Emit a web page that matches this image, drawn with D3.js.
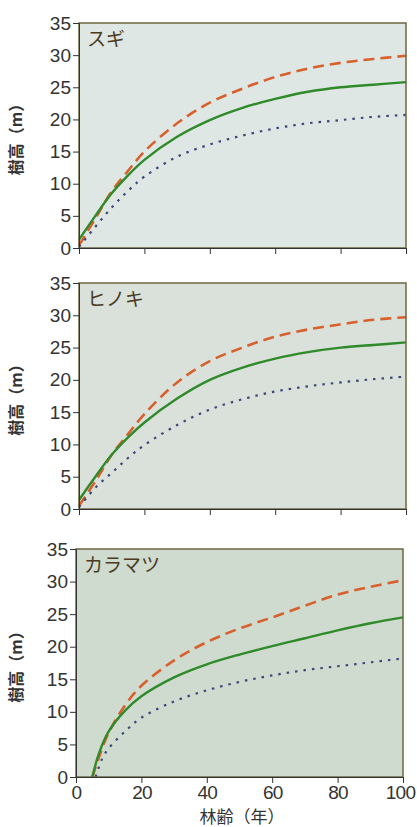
<!DOCTYPE html>
<html>
<head>
<meta charset="utf-8">
<script src="https://cdn.jsdelivr.net/npm/d3@7"></script>
<style>
  body { margin: 0; background: #fff; }
  svg { display: block; }
  .tick text { font-family: "Liberation Sans Narrow", "Liberation Sans", Arial, sans-serif; font-size: 19px; fill: #333; }
</style>
</head>
<body>
<div id="chart"></div>
<script>
// Tick values
const yTicks = [0, 5, 10, 15, 20, 25, 30, 35];
const xTicks = [0, 20, 40, 60, 80, 100];

// Panel names
const speciesNames = ["スギ", "ヒノキ", "カラマツ"];

const ages = [0, 5, 10, 15, 20, 30, 40, 50, 60, 70, 80, 90, 100];
const agesLarch = [5, 7, 10, 15, 20, 30, 40, 50, 60, 70, 80, 90, 100];
const agesLarchLow = [6, 8, 10, 15, 20, 30, 40, 50, 60, 70, 80, 90, 100];

// スギ
const sugiHigh = [0.4, 4.6, 8.8, 12.0, 15.0, 19.4, 22.6, 24.8, 26.6, 27.9, 28.8, 29.4, 29.9];
const sugiMid = [1.3, 5.0, 8.5, 11.3, 13.7, 17.3, 19.9, 21.8, 23.2, 24.3, 25.0, 25.4, 25.8];
const sugiLow = [0.2, 3.3, 6.3, 8.9, 11.1, 14.2, 16.1, 17.5, 18.6, 19.4, 19.9, 20.4, 20.7];

// ヒノキ
const hinokiHigh = [0.5, 4.3, 8.4, 11.6, 14.7, 19.6, 22.9, 25.0, 26.7, 27.8, 28.6, 29.3, 29.7];
const hinokiMid = [1.4, 5.0, 8.4, 11.1, 13.4, 17.1, 20.0, 21.9, 23.3, 24.3, 25.0, 25.4, 25.8];
const hinokiLow = [0.3, 3.3, 5.6, 7.9, 9.9, 13.0, 15.4, 17.0, 18.2, 19.0, 19.6, 20.1, 20.5];

// カラマツ
const larchHigh = [0, 3.0, 6.8, 11.0, 14.0, 17.9, 20.7, 22.8, 24.5, 26.3, 28.0, 29.2, 30.2];
const larchMid = [0, 3.6, 7.0, 10.2, 12.4, 15.3, 17.3, 18.8, 20.1, 21.3, 22.5, 23.6, 24.5];
const larchLow = [0, 2.8, 4.4, 7.0, 9.1, 11.6, 13.3, 14.6, 15.6, 16.4, 17.0, 17.6, 18.2];

const panels = [
  { name: speciesNames[0], top: 23, bottom: 248, left: 79, right: 406, bg: "#dfe7e4",
    series: [[ages, sugiHigh], [ages, sugiMid], [ages, sugiLow]] },
  { name: speciesNames[1], top: 283, bottom: 509, left: 79, right: 406, bg: "#d9e1da",
    series: [[ages, hinokiHigh], [ages, hinokiMid], [ages, hinokiLow]] },
  { name: speciesNames[2], top: 549, bottom: 777, left: 76, right: 403, bg: "#cfdbcf",
    series: [[agesLarch, larchHigh], [agesLarch, larchMid], [agesLarchLow, larchLow]] }
];

// line styles: high (dashed orange), mid (solid green), low (dotted navy)
const styles = [
  { color: "#d8602c", width: 2.6, dash: "11,6" },
  { color: "#2f8a2a", width: 2.4, dash: null },
  { color: "#3b4778", width: 2.2, dash: "2.5,6" }
];

const W = 417, H = 827;
const svg = d3.select("#chart").append("svg")
  .attr("width", W)
  .attr("height", H);

panels.forEach(function(p, idx) {
  const x = d3.scaleLinear().domain([0, 100]).range([p.left, p.right]);
  const y = d3.scaleLinear().domain([0, 35]).range([p.bottom, p.top]);

  const g = svg.append("g");

  // plot background
  g.append("rect")
    .attr("x", p.left)
    .attr("y", p.top)
    .attr("width", p.right - p.left)
    .attr("height", p.bottom - p.top)
    .attr("fill", p.bg);

  // curves
  const line = d3.line()
    .x(d => x(d[0]))
    .y(d => y(d[1]))
    .curve(d3.curveCatmullRom.alpha(0.5));

  p.series.forEach(function(s, i) {
    const pts = s[0].map((a, k) => [a, s[1][k]]);
    g.append("path")
      .datum(pts)
      .attr("d", line)
      .attr("fill", "none")
      .attr("stroke", styles[i].color)
      .attr("stroke-width", styles[i].width)
      .attr("stroke-dasharray", styles[i].dash);
  });

  // frame
  g.append("rect")
    .attr("x", p.left)
    .attr("y", p.top)
    .attr("width", p.right - p.left)
    .attr("height", p.bottom - p.top)
    .attr("fill", "none")
    .attr("stroke", "#6d6740")
    .attr("stroke-width", 1.5);

  // y axis
  g.append("g")
    .attr("transform", `translate(${p.left},0)`)
    .call(d3.axisLeft(y).tickValues(yTicks).tickSize(6).tickPadding(2))
    .call(a => a.select(".domain").attr("stroke", "#333"))
    .call(a => a.selectAll(".tick line").attr("stroke", "#333"));

  // x axis
  const xa = g.append("g")
    .attr("transform", `translate(0,${p.bottom})`)
    .call(d3.axisBottom(x).tickValues(xTicks).tickSize(6).tickPadding(3))
    .call(a => a.select(".domain").attr("stroke", "#333"))
    .call(a => a.selectAll(".tick line").attr("stroke", "#333"));
  if (idx < panels.length - 1) {
    xa.selectAll(".tick text").remove();
  } else {
    // last label sits against the page edge
    xa.selectAll(".tick text")
      .attr("letter-spacing", -0.8)
      .attr("dx", d => d === 100 ? -3 : 0);
  }

  // species label
  g.append("text")
    .attr("x", p.left + 8)
    .attr("y", p.top + 23)
    .attr("font-family", "'Noto Sans CJK JP', sans-serif")
    .attr("font-size", 19)
    .attr("fill", "#4a3a1e")
    .text(p.name);

  // y axis label
  g.append("text")
    .attr("transform", `translate(22,${(p.top + p.bottom) / 2}) rotate(-90)`)
    .attr("text-anchor", "middle")
    .attr("font-family", "'Noto Sans CJK JP', sans-serif")
    .attr("font-size", 16)
    .attr("font-weight", 700)
    .attr("fill", "#333")
    .text("樹高（m）");
});

// x axis label
svg.append("text")
  .attr("x", 242)
  .attr("y", 823)
  .attr("text-anchor", "middle")
  .attr("font-family", "'Noto Sans CJK JP', sans-serif")
  .attr("font-size", 17)
  .attr("fill", "#333")
  .text("林齢（年）");
</script>
</body>
</html>
